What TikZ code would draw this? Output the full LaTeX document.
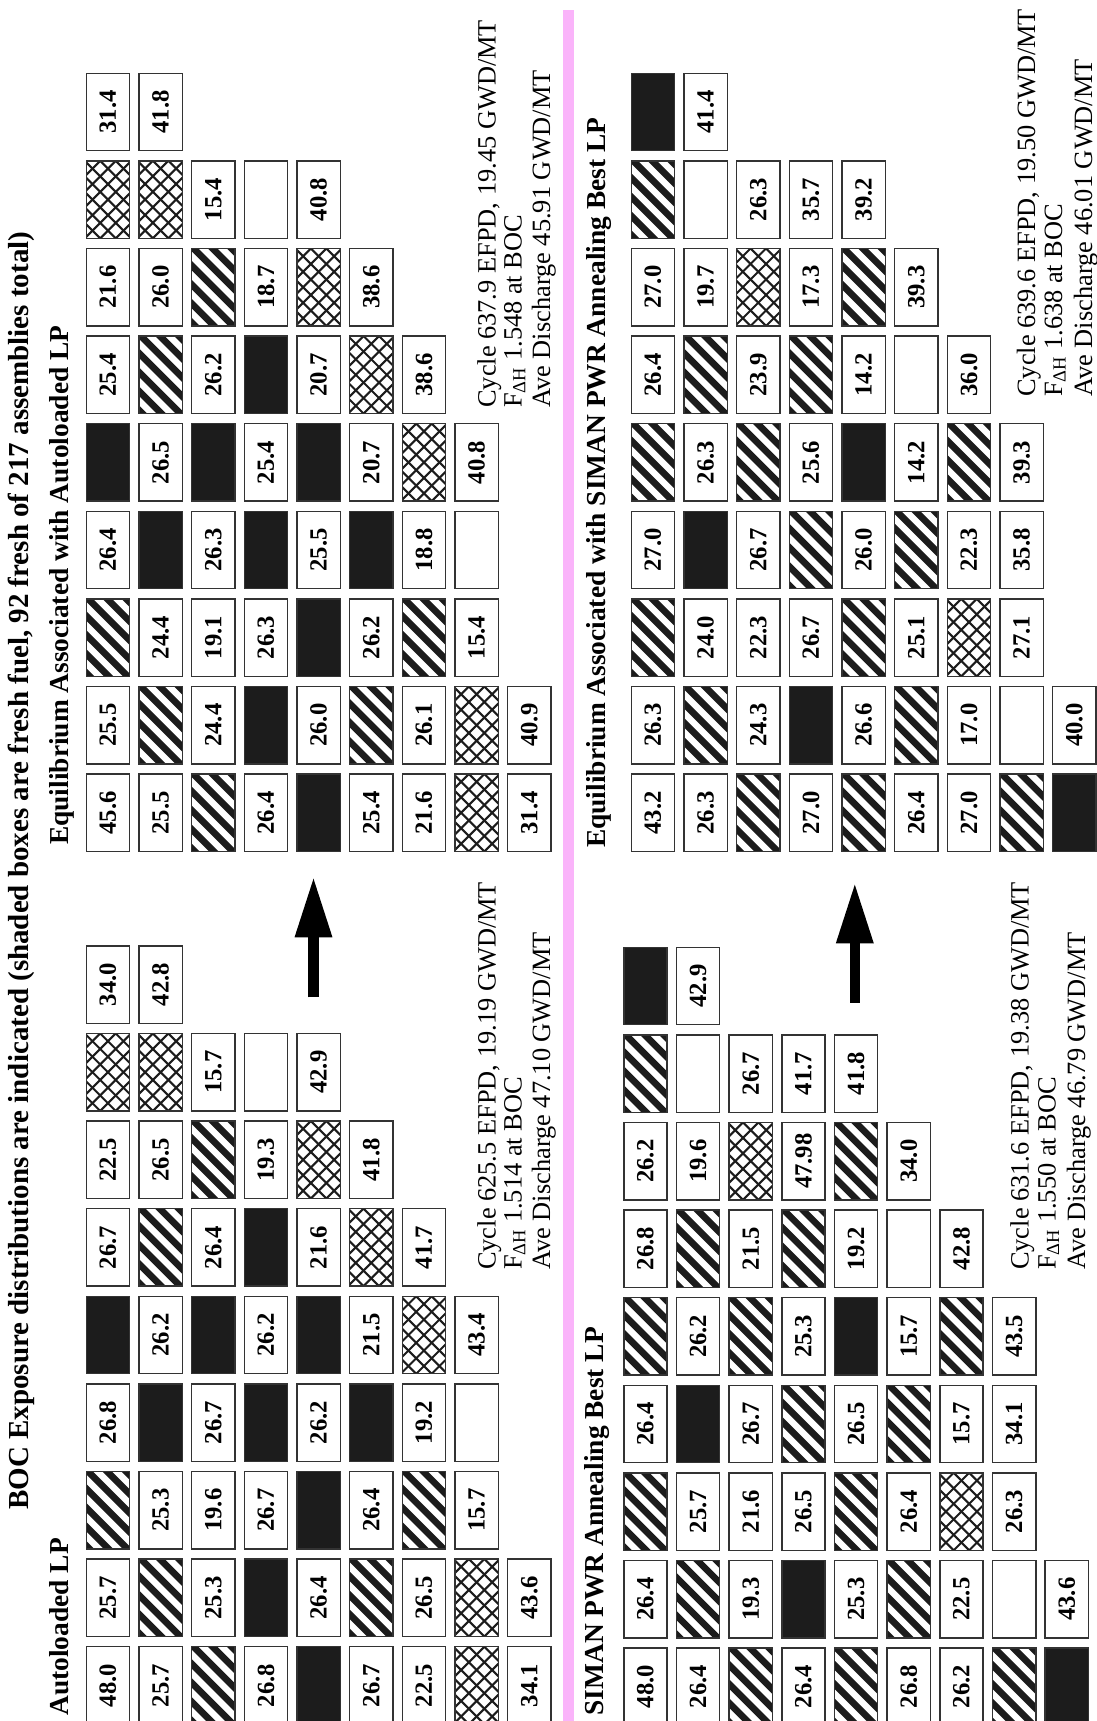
\documentclass[tikz,border=0pt]{standalone}
\usepackage{fontspec}
\usepackage{graphicx}
\usetikzlibrary{arrows.meta}
\newfontfamily\statfont{Liberation Serif}
\newfontfamily\boldserif{Liberation Serif}
\definecolor{fresh}{RGB}{28,28,28}
\definecolor{divider}{RGB}{250,180,250}
\tikzset{
  cellbox/.style={draw=black!80,line width=1.4pt,minimum width=43.3pt,minimum height=77.4pt,
    inner sep=0pt,font=\boldserif\bfseries\fontsize{24.7}{25}\selectfont},
  cellB/.style={fill=fresh},
  cellH/.style={path picture={\foreach \k in {-4,...,4}
      \draw[fresh,line width=6.7pt] ([xshift=\k*19pt]path picture bounding box.center) ++(-60pt,60pt) -- ++(120pt,-120pt);}},
  cellX/.style={path picture={\foreach \k in {-5,...,5} {
      \draw[fresh,line width=2.1pt] ([xshift=\k*15.5pt]path picture bounding box.center) ++(-60pt,60pt) -- ++(120pt,-120pt);
      \draw[fresh,line width=2.1pt] ([xshift=\k*15.5pt]path picture bounding box.center) ++(-60pt,-60pt) -- ++(120pt,120pt);}}},
  cellE/.style={},
  heading/.style={rotate=90,inner sep=0pt,font=\boldserif\bfseries\fontsize{29}{31}\selectfont},
  subhead/.style={rotate=90,inner sep=0pt,font=\boldserif\bfseries\fontsize{27.4}{29}\selectfont},
  statline/.style={rotate=90,inner sep=0pt,font=\statfont\fontsize{26.4}{28}\selectfont},
  bigarrow/.style={line width=10.3pt,-{Triangle[length=60.6pt,width=34.7pt]}},
  divline/.style={draw=divider,line width=10.7pt}
}
% #1,#2 corner of the map, #3 name, #4 rows of cells
\newcommand{\coremap}[4]{%
  \foreach \row [count=\i] in {#4} {
    \foreach \cell [count=\j] in \row {
      \pgfmathsetmacro\cx{#1+(\i-1)*52.67+21.65}
      \pgfmathsetmacro\cy{#2-(\j-1)*87.6+38.7}
      \pgfkeysifdefined{/tikz/cell\cell/.@cmd}
        {\node[cellbox,cell\cell] (#3-\i-\j) at (\cx,\cy) {};}
        {\node[cellbox] (#3-\i-\j) at (\cx,\cy) {\rotatebox{90}{\cell}};}
    }
  }
}

\begin{document}
\begin{tikzpicture}[x=1pt,y=-1pt]
  \useasboundingbox (0,0) rectangle (1096,1721);
  \fill[white] (0,0) rectangle (1096,1721);
  \coordinate (div-top) at (568.7,10); \coordinate (div-bot) at (568.7,1721);
  \draw[divline] (div-top) -- (div-bot);

  \node[heading,anchor=base west] (title) at (28,1510)
    {BOC Exposure distributions are indicated (shaded boxes are fresh fuel, 92 fresh of 217 assemblies total)};

  % autoloaded LP and its equilibrium
  \node[subhead,anchor=base east] (auto-head) at (68.5,1538) {Autoloaded LP};
  \coremap{86.3}{1646.7}{auto}{{48.0,25.7,H,26.8,B,26.7,22.5,X,34.0},{25.7,H,25.3,B,26.2,H,26.5,X,42.8},
    {H,25.3,19.6,26.7,B,26.4,H,15.7},{26.8,B,26.7,B,26.2,B,19.3,E},{B,26.4,B,26.2,B,21.6,X,42.9},
    {26.7,H,26.4,B,21.5,X,41.8},{22.5,26.5,H,19.2,X,41.7},{X,X,15.7,E,43.4},{34.1,43.6}}
  \node[statline,anchor=base west] (auto-cycle) at (495.5,1270) {Cycle 625.5 EFPD, 19.19 GWD/MT};
  \node[statline,anchor=base west] (auto-fdh) at (521.7,1270) {F\textsubscript{ΔH} 1.514 at BOC};
  \node[statline,anchor=base west] (auto-ave) at (550,1270) {Ave Discharge 47.10 GWD/MT};

  \node[subhead,anchor=base west] (autoeq-head) at (68.5,845) {Equilibrium Associated with Autoloaded LP};
  \coremap{86.3}{774.1}{autoeq}{{45.6,25.5,H,26.4,B,25.4,21.6,X,31.4},{25.5,H,24.4,B,26.5,H,26.0,X,41.8},
    {H,24.4,19.1,26.3,B,26.2,H,15.4},{26.4,B,26.3,B,25.4,B,18.7,E},{B,26.0,B,25.5,B,20.7,X,40.8},
    {25.4,H,26.2,B,20.7,X,38.6},{21.6,26.1,H,18.8,X,38.6},{X,X,15.4,E,40.8},{31.4,40.9}}
  \node[statline,anchor=base west] (autoeq-cycle) at (495.5,408) {Cycle 637.9 EFPD, 19.45 GWD/MT};
  \node[statline,anchor=base west] (autoeq-fdh) at (521.7,408) {F\textsubscript{ΔH} 1.548 at BOC};
  \node[statline,anchor=base west] (autoeq-ave) at (550,408) {Ave Discharge 45.91 GWD/MT};

  \coordinate (auto-tail) at (313.5,997.3); \coordinate (auto-tip) at (313.5,876.7);
  \draw[bigarrow] (auto-tail) -- (auto-tip);

  % SIMAN best LP and its equilibrium
  \node[subhead,anchor=base east] (siman-head) at (603,1327) {SIMAN PWR Annealing Best LP};
  \coremap{623.8}{1648}{siman}{{48.0,26.4,H,26.4,H,26.8,26.2,H,B},{26.4,H,25.7,B,26.2,H,19.6,E,42.9},
    {H,19.3,21.6,26.7,H,21.5,X,26.7},{26.4,B,26.5,H,25.3,H,47.98,41.7},{H,25.3,H,26.5,B,19.2,H,41.8},
    {26.8,H,26.4,H,15.7,E,34.0},{26.2,22.5,X,15.7,H,42.8},{H,E,26.3,34.1,43.5},{B,43.6}}
  \node[statline,anchor=base west] (siman-cycle) at (1028.5,1270) {Cycle 631.6 EFPD, 19.38 GWD/MT};
  \node[statline,anchor=base west] (siman-fdh) at (1055.5,1270) {F\textsubscript{ΔH} 1.550 at BOC};
  \node[statline,anchor=base west] (siman-ave) at (1085,1270) {Ave Discharge 46.79 GWD/MT};

  \node[subhead,anchor=base west] (simaneq-head) at (605,848) {Equilibrium Associated with SIMAN PWR Annealing Best LP};
  \coremap{631.3}{774.1}{simaneq}{{43.2,26.3,H,27.0,H,26.4,27.0,H,B},{26.3,H,24.0,B,26.3,H,19.7,E,41.4},
    {H,24.3,22.3,26.7,H,23.9,X,26.3},{27.0,B,26.7,H,25.6,H,17.3,35.7},{H,26.6,H,26.0,B,14.2,H,39.2},
    {26.4,H,25.1,H,14.2,E,39.3},{27.0,17.0,X,22.3,H,36.0},{H,E,27.1,35.8,39.3},{B,40.0}}
  \node[statline,anchor=base west] (simaneq-cycle) at (1035,397) {Cycle 639.6 EFPD, 19.50 GWD/MT};
  \node[statline,anchor=base west] (simaneq-fdh) at (1062,397) {F\textsubscript{ΔH} 1.638 at BOC};
  \node[statline,anchor=base west] (simaneq-ave) at (1092,397) {Ave Discharge 46.01 GWD/MT};

  \coordinate (siman-tail) at (854.8,1002.7); \coordinate (siman-tip) at (854.8,882.7);
  \draw[bigarrow] (siman-tail) -- (siman-tip);
\end{tikzpicture}
\end{document}
